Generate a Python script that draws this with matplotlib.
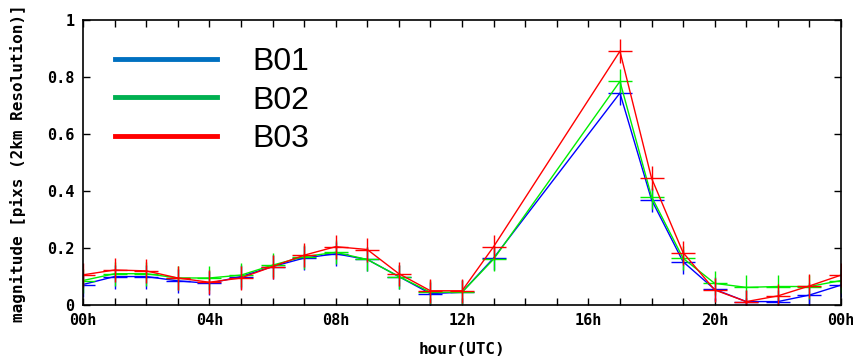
import matplotlib
matplotlib.use("Agg")
import matplotlib.pyplot as plt
from matplotlib.lines import Line2D

# hours with data (14-16 missing)
hours = [0, 1, 2, 3, 4, 5, 6, 7, 8, 9, 10, 11, 12, 13, 17, 18, 19, 20, 21, 22, 23, 24]
b01 = [0.072, 0.100, 0.100, 0.085, 0.076, 0.100, 0.135, 0.165, 0.180, 0.160, 0.100, 0.040, 0.045,
       0.165, 0.745, 0.370, 0.152, 0.055, 0.012, 0.012, 0.035, 0.070]
b02 = [0.086, 0.110, 0.110, 0.095, 0.095, 0.105, 0.140, 0.170, 0.185, 0.160, 0.100, 0.045, 0.045,
       0.161, 0.786, 0.381, 0.164, 0.076, 0.062, 0.065, 0.065, 0.086]
b03 = [0.106, 0.123, 0.120, 0.095, 0.080, 0.095, 0.135, 0.175, 0.205, 0.195, 0.110, 0.050, 0.050,
       0.205, 0.892, 0.446, 0.184, 0.053, 0.012, 0.032, 0.067, 0.105]
series = [("B01", b01, "#0000ff", "#0070c0"),
          ("B02", b02, "#00ee00", "#00b050"),
          ("B03", b03, "#ff0000", "#ff0000")]
xtick_labels = ["00h", "04h", "08h", "12h", "16h", "20h", "00h"]

fig = plt.figure(figsize=(8.54, 3.59), dpi=100)
ax = fig.add_axes([0.0972, 0.1504, 0.8876, 0.7926])

for name, vals, c, _ in series:
    ax.plot(hours, vals, color=c, lw=1.0, marker="+", ms=17, mew=1.0)

ax.set_xlim(0, 24)
ax.set_ylim(0, 1)
ax.set_xticks(range(0, 25, 4))
ax.set_xticks(range(0, 25), minor=True)
ax.set_xticklabels(xtick_labels)
ax.set_yticks([0, 0.2, 0.4, 0.6, 0.8, 1.0])
ax.set_yticklabels(["0", "0.2", "0.4", "0.6", "0.8", "1"])
mono = dict(family="DejaVu Sans Mono", weight="bold", size=11)
for lab in ax.get_xticklabels() + ax.get_yticklabels():
    lab.set_fontproperties(matplotlib.font_manager.FontProperties(**mono))
ax.tick_params(which="both", direction="in", top=True, right=True, length=5, width=1, pad=6)
for s in ax.spines.values():
    s.set_linewidth(1.2)
lab_font = dict(family="DejaVu Sans Mono", weight="bold", size=11.5)
ax.set_xlabel("hour(UTC)", fontdict=lab_font, labelpad=10)
ax.set_ylabel("magnitude [pixs (2km Resolution)]", fontdict=lab_font, labelpad=15)

handles = [Line2D([], [], color=lc, lw=3.5) for _, _, _, lc in series]
ax.legend(handles, [s[0] for s in series], loc="upper left", frameon=False,
          prop=dict(family="Liberation Sans", size=23), handlelength=3.2,
          handletextpad=1.1, labelspacing=0.27, bbox_to_anchor=(0.004, 1.008))

fig.savefig("out.png", dpi=100)
